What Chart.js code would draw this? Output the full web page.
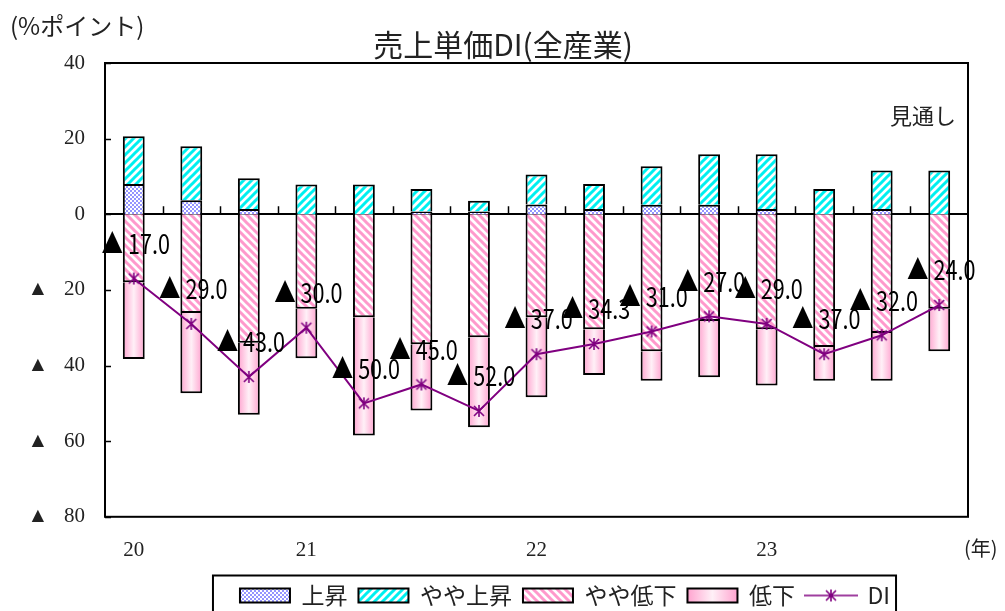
<!DOCTYPE html>
<html>
<head>
<meta charset="utf-8">
<script src="https://cdn.jsdelivr.net/npm/chart.js@4.4.1/dist/chart.umd.min.js"></script>
<style>
  html, body { margin: 0; padding: 0; background: #fff; }
  #wrap { width: 1005px; height: 611px; }
</style>
</head>
<body>
<div id="wrap"><canvas id="c" width="1005" height="611"></canvas></div>
<script>
// 四半期（最後は見通し）
const labels = ["20", "", "", "21", "", "", "", "22", "", "", "", "23", "", "", ""];
const rise = [8.0, 3.7, 1.4, 0, 0, 0.7, 0.7, 2.6, 1.4, 2.5, 2.5, 1.4, 0, 1.4, 0];
const slightRise = [12.6, 14.3, 8.1, 7.9, 7.9, 6.0, 2.9, 7.9, 6.6, 10.2, 13.4, 14.5, 6.7, 10.2, 11.6];
const slightFall = [-18.0, -26.1, -34.0, -25.0, -27.2, -34.4, -32.5, -27.2, -30.4, -36.2, -28.2, -30.4, -35.1, -31.4, -25.0];
const fall = [-20.3, -21.2, -19.0, -13.1, -31.3, -17.5, -23.8, -21.2, -12.1, -7.8, -14.9, -14.9, -8.9, -12.6, -11.2];
const di = [-17.0, -29.0, -43.0, -30.0, -50.0, -45.0, -52.0, -37.0, -34.3, -31.0, -27.0, -29.0, -37.0, -32.0, -24.0];
const yTicks = [40, 20, 0, -20, -40, -60, -80];

const barPct = 0.38;
const jpFont = '"Noto Sans CJK JP", sans-serif';
const numFont = '"Liberation Serif", "DejaVu Sans", serif';

// 模様
function tile(size, draw) {
  const cv = document.createElement("canvas");
  cv.width = size;
  cv.height = size;
  const g = cv.getContext("2d");
  g.fillStyle = "#fff";
  g.fillRect(0, 0, size, size);
  draw(g);
  return g.createPattern(cv, "repeat");
}

const checkFill = tile(4, g => {
  g.fillStyle = "#9595ff";
  g.fillRect(0, 0, 2, 2);
  g.fillRect(2, 2, 2, 2);
});

function stripes(color, dir) {
  return tile(8, g => {
    g.strokeStyle = color;
    g.lineWidth = 3;
    g.beginPath();
    if (dir > 0) {
      g.moveTo(-2, 10); g.lineTo(10, -2);
      g.moveTo(-6, 6); g.lineTo(6, -6);
      g.moveTo(2, 14); g.lineTo(14, 2);
    } else {
      g.moveTo(-2, -2); g.lineTo(10, 10);
      g.moveTo(-6, 2); g.lineTo(6, 14);
      g.moveTo(2, -6); g.lineTo(14, 6);
    }
    g.stroke();
  });
}
const cyanFill = stripes("#00f0f0", 1);
const pinkFill = stripes("#ff99cc", -1);

function pinkGradient(ctx, x0, x1) {
  const gr = ctx.createLinearGradient(x0, 0, x1, 0);
  gr.addColorStop(0, "#ffa3cf");
  gr.addColorStop(0.5, "#fff0f7");
  gr.addColorStop(1, "#ffa3cf");
  return gr;
}

function fallFill(c) {
  const chart = c.chart;
  const xs = chart.scales.x;
  if (!chart.chartArea || !xs || c.dataIndex === undefined) return "#ffc4dd";
  const cx = xs.getPixelForValue(c.dataIndex);
  const w = xs.width / labels.length * barPct;
  return pinkGradient(chart.ctx, cx - w / 2, cx + w / 2);
}

// DI のマーカー
function asterisk(w, h, withLine) {
  const cv = document.createElement("canvas");
  cv.width = w;
  cv.height = h;
  const g = cv.getContext("2d");
  g.strokeStyle = "#800080";
  g.lineWidth = 1.6;
  const cx = w / 2, cy = h / 2;
  g.beginPath();
  if (withLine) {
    g.moveTo(0, cy); g.lineTo(w, cy);
  }
  g.moveTo(cx - 5, cy - 5); g.lineTo(cx + 5, cy + 5);
  g.moveTo(cx + 5, cy - 5); g.lineTo(cx - 5, cy + 5);
  g.moveTo(cx, cy - 6); g.lineTo(cx, cy + 6);
  g.stroke();
  return cv;
}
const diMarker = asterisk(14, 14, false);
const diLegend = asterisk(54, 14, true);

const legendFills = [checkFill, cyanFill, pinkFill, "#ffc4dd"];

const extras = {
  id: "extras",
  afterLayout(chart) {
    const lg = chart.legend;
    lg.left += 81; lg.right += 81;
    lg.top -= 11; lg.bottom -= 11;
    const tb = chart.titleBlock;
    tb.left += 19; tb.right += 19;
  },
  beforeDraw(chart) {
    const lg = chart.legend;
    const hb = lg.legendHitBoxes;
    if (hb && hb[3] && lg.legendItems[3]) {
      lg.legendItems[3].fillStyle = pinkGradient(chart.ctx, hb[3].left, hb[3].left + 50);
    }
  },
  beforeDatasetsDraw(chart) {
    const { ctx, chartArea: a, scales: { y } } = chart;
    const y0 = y.getPixelForValue(0);
    ctx.save();
    ctx.strokeStyle = "#000";
    ctx.lineWidth = 1.5;
    ctx.beginPath();
    const cw = (a.right - a.left) / labels.length;
    for (let k = 1; k < labels.length; k++) {
      const px = Math.round(a.left + cw * k) + 0.5;
      ctx.moveTo(px, y0); ctx.lineTo(px, y0 - 8);
    }
    yTicks.forEach(v => {
      const py = Math.round(y.getPixelForValue(v)) + 0.5;
      ctx.moveTo(a.left, py); ctx.lineTo(a.left + 6, py);
    });
    ctx.stroke();
    ctx.lineWidth = 2;
    ctx.beginPath();
    ctx.moveTo(a.left, Math.round(y0)); ctx.lineTo(a.right, Math.round(y0));
    ctx.stroke();
    ctx.restore();
  },
  afterDatasetsDraw(chart) {
    const { ctx } = chart;
    const meta = chart.getDatasetMeta(4);
    ctx.save();
    ctx.fillStyle = "#000";
    ctx.textAlign = "center";
    ctx.textBaseline = "middle";
    ctx.font = "27px " + jpFont;
    meta.data.forEach((pt, i) => {
      const txt = "▲ " + Math.abs(di[i]).toFixed(1);
      ctx.save();
      ctx.translate(pt.x + 2, pt.y - 35);
      ctx.scale(0.8, 1);
      ctx.fillText(txt, 0, 0);
      ctx.restore();
    });
    ctx.restore();
  },
  afterDraw(chart) {
    const { ctx, chartArea: a } = chart;
    ctx.save();
    ctx.strokeStyle = "#000";
    ctx.lineWidth = 2;
    ctx.strokeRect(a.left, a.top, a.right - a.left, a.bottom - a.top);

    // 凡例の枠
    const lg = chart.legend;
    const hb = lg.legendHitBoxes;
    if (hb && hb.length) {
      const cy = hb[0].top + hb[0].height / 2;
      const l = hb[0].left - 27;
      const r = hb[hb.length - 1].left + hb[hb.length - 1].width + 6;
      ctx.strokeRect(l, cy - 20, r - l, 60);
    }

    ctx.fillStyle = "#222";
    ctx.textBaseline = "middle";
    ctx.textAlign = "left";
    ctx.font = "24px " + jpFont;
    ctx.fillText("(%ポイント)", 10, 26);
    ctx.font = "22px " + jpFont;
    ctx.fillText("見通し", 890, 116);
    ctx.font = "20px " + jpFont;
    ctx.fillText("(年)", 964, 548);
    ctx.restore();
  }
};

new Chart(document.getElementById("c"), {
  data: {
    labels: labels,
    datasets: [
      { type: "bar", label: "上昇", data: rise, backgroundColor: checkFill, borderColor: "#000", borderWidth: 2, order: 1 },
      { type: "bar", label: "やや上昇", data: slightRise, backgroundColor: cyanFill, borderColor: "#000", borderWidth: 2, order: 1 },
      { type: "bar", label: "やや低下", data: slightFall, backgroundColor: pinkFill, borderColor: "#000", borderWidth: 2, order: 1 },
      { type: "bar", label: "低下", data: fall, backgroundColor: fallFill, borderColor: "#000", borderWidth: 2, order: 1 },
      {
        type: "line", label: "DI", data: di, borderColor: "#800080", borderWidth: 2,
        pointStyle: diMarker, pointRadius: 7, fill: false, tension: 0, order: 0
      }
    ]
  },
  options: {
    responsive: false,
    animation: false,
    events: [],
    datasets: { bar: { barPercentage: barPct, categoryPercentage: 1 } },
    layout: { padding: { left: 0, right: 37, top: 0, bottom: -17 } },
    scales: {
      x: {
        stacked: true,
        grid: { display: false, drawTicks: false },
        border: { display: false },
        ticks: {
          autoSkip: false, maxRotation: 0, padding: 21, color: "#222",
          font: { family: numFont, size: 21 }
        }
      },
      y: {
        stacked: true,
        min: -80, max: 40,
        afterFit: s => { s.width = 105; },
        afterBuildTicks: s => { s.ticks = yTicks.map(v => ({ value: v })); },
        grid: { display: false, drawTicks: false },
        border: { display: false },
        ticks: {
          padding: 20, color: "#222",
          font: { family: numFont, size: 21 },
          callback: v => (v < 0 ? "▲   " + (-v) : String(v))
        }
      }
    },
    plugins: {
      title: {
        display: true,
        text: "売上単価DI(全産業)",
        color: "#222",
        font: { family: jpFont, size: 30, weight: "normal" },
        padding: { top: 27, bottom: 0 }
      },
      legend: {
        position: "bottom",
        labels: {
          usePointStyle: true,
          pointStyleWidth: 50,
          boxHeight: 14,
          padding: 11,
          color: "#222",
          font: { family: jpFont, size: 23 },
          sort: (a, b) => a.datasetIndex - b.datasetIndex,
          generateLabels(chart) {
            const items = Chart.defaults.plugins.legend.labels.generateLabels(chart);
            items.forEach(it => {
              const i = it.datasetIndex;
              if (i < 4) {
                it.pointStyle = "rect";
                it.fillStyle = legendFills[i];
                it.strokeStyle = "#000";
                it.lineWidth = 2;
              } else {
                it.pointStyle = diLegend;
              }
            });
            return items;
          }
        }
      },
      tooltip: { enabled: false }
    }
  },
  plugins: [extras]
});
</script>
</body>
</html>
